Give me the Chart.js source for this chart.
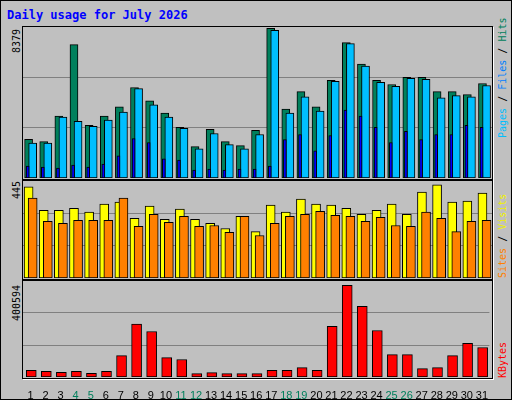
<!DOCTYPE html>
<html>
<head>
<meta charset="utf-8">
<script src="https://cdn.jsdelivr.net/npm/chart.js@4"></script>
<style>
  body { margin: 0; background: #C0C0C0; }
  #page { position: relative; width: 510px; height: 398px; background: #C0C0C0;
          border: 1px solid #000; overflow: hidden; }
  .frame { position: absolute; border: 1px solid #000; box-shadow: 1px 1px 0 #fff; }
  .cv { position: absolute; }
  .rot { position: absolute; transform-origin: left top; transform: rotate(-90deg);
         white-space: nowrap; font-family: "DejaVu Sans Mono", monospace; font-size: 10px; line-height: 11px; }
  #title { position: absolute; left: 6px; top: 7px; color: #0000FF;
           font: bold 12px "DejaVu Sans Mono", monospace; }
</style>
</head>
<body>
<div id="page">
  <div id="title">Daily usage for July 2026</div>
  <div class="frame" style="left:21px;top:25px;width:469px;height:152px"></div>
  <div class="frame" style="left:21px;top:179px;width:469px;height:98px"></div>
  <div class="frame" style="left:21px;top:279px;width:469px;height:97px"></div>
  <canvas id="c1" class="cv" style="left:22px;top:26px" width="469" height="151"></canvas>
  <canvas id="c2" class="cv" style="left:22px;top:180px" width="469" height="97"></canvas>
  <canvas id="c3" class="cv" style="left:22px;top:280px" width="469" height="118"></canvas>

  <div class="rot" style="left:10px;top:52px">8379</div>
  <div class="rot" style="left:10px;top:198px">445</div>
  <div class="rot" style="left:10px;top:320px">400594</div>

  <div class="rot" style="left:496px;top:137px"><span style="color:#00BFFF">Pages</span> <span style="color:#000">/</span> <span style="color:#0080FF">Files</span> <span style="color:#000">/</span> <span style="color:#00805C">Hits</span></div>
  <div class="rot" style="left:496px;top:277px"><span style="color:#FF8000">Sites</span> <span style="color:#000">/</span> <span style="color:#F0F000">Visits</span></div>
  <div class="rot" style="left:496px;top:377px"><span style="color:#FF0000">KBytes</span></div>
</div>
<script>
// values
const days = [1,2,3,4,5,6,7,8,9,10,11,12,13,14,15,16,17,18,19,20,21,22,23,24,25,26,27,28,29,30,31];
const weekendDays = [4,5,11,12,18,19,25,26];
const hits  = [2150,2020,3435,7400,2925,3435,3945,5020,4285,3605,2810,1740,2700,2020,1795,2640,8300,3830,4790,3945,5415,7510,6320,5415,5190,5585,5585,4790,4790,4625,5245];
const files = [1940,1940,3380,3150,2870,3210,3660,4960,4060,3380,2755,1625,2470,1850,1625,2415,8190,3605,4510,3720,5360,7455,6210,5305,5080,5530,5475,4455,4570,4510,5135];
const pages = [660,605,550,720,605,775,1230,2190,1965,1060,1000,435,490,435,490,490,660,2130,2415,1510,2360,3775,3435,2810,1965,2585,2130,2415,2415,2925,2810];
const visits = [418,311,311,320,302,339,348,274,330,269,316,269,251,227,283,213,334,302,362,339,334,320,292,311,339,292,394,427,348,353,390];
const sites  = [367,260,251,264,264,264,367,237,292,255,283,237,241,209,283,195,251,283,292,306,288,283,260,278,241,237,302,274,213,260,264];
const kbytes = [28000,24000,20000,24000,15000,24000,89500,220500,190000,81000,73000,14000,18000,14000,14000,14000,28000,28000,39000,28000,211000,382600,294700,194000,93700,93700,35000,39000,89500,140000,123000];
const maxHits = 8379, maxVisits = 445, maxKbytes = 400594;

function pts(vals, shift) {
  return vals.map((v, i) => ({ x: days[i] + shift, y: v }));
}
function bars(vals, shift, color, thick, order) {
  return { data: pts(vals, shift), backgroundColor: color, borderColor: '#000',
           borderWidth: 1, borderSkipped: false, barThickness: thick, grouped: false, order: order };
}
function yScale(max) {
  return {
    min: 0, max: max,
    afterBuildTicks: s => { s.ticks = [max / 3, 2 * max / 3].map(v => ({ value: v })); },
    ticks: { display: false },
    grid: { color: '#808080', lineWidth: 1, drawTicks: false },
    border: { display: false },
    afterFit: s => { s.width = 0; }
  };
}
function xScale(showTicks) {
  return {
    type: 'linear', min: 0.5, max: 31.5, offset: false,
    display: showTicks,
    afterBuildTicks: s => { s.ticks = days.map(d => ({ value: d })); },
    afterFit: s => { if (showTicks) s.height = 22; },
    grid: { display: false },
    border: { display: false },
    ticks: {
      maxRotation: 0, autoSkip: false, padding: 4,
      font: { family: 'Liberation Sans', size: 11 },
      color: ctx => weekendDays.includes(ctx.tick.value) ? '#00805C' : '#000'
    }
  };
}
function opts(max, showX) {
  return {
    responsive: false, animation: false,
    layout: { padding: 0 },
    plugins: { legend: { display: false }, tooltip: { enabled: false } },
    scales: { x: xScale(showX), y: yScale(max) }
  };
}

new Chart(document.getElementById('c1'), {
  type: 'bar',
  data: { datasets: [
    bars(hits, -0.13, '#00805C', 8, 3),
    bars(files, 0.14, '#00BFFF', 8, 2),
    bars(pages, -0.19, '#0000FF', 3, 1)
  ] },
  options: opts(maxHits, false)
});

new Chart(document.getElementById('c2'), {
  type: 'bar',
  data: { datasets: [
    bars(visits, -0.13, '#FFFF00', 9, 2),
    bars(sites, 0.14, '#FF8000', 9, 1)
  ] },
  options: opts(maxVisits, false)
});

new Chart(document.getElementById('c3'), {
  type: 'bar',
  data: { datasets: [
    bars(kbytes, 0.05, '#FF0000', 10, 1)
  ] },
  options: opts(maxKbytes, true)
});
</script>
</body>
</html>
